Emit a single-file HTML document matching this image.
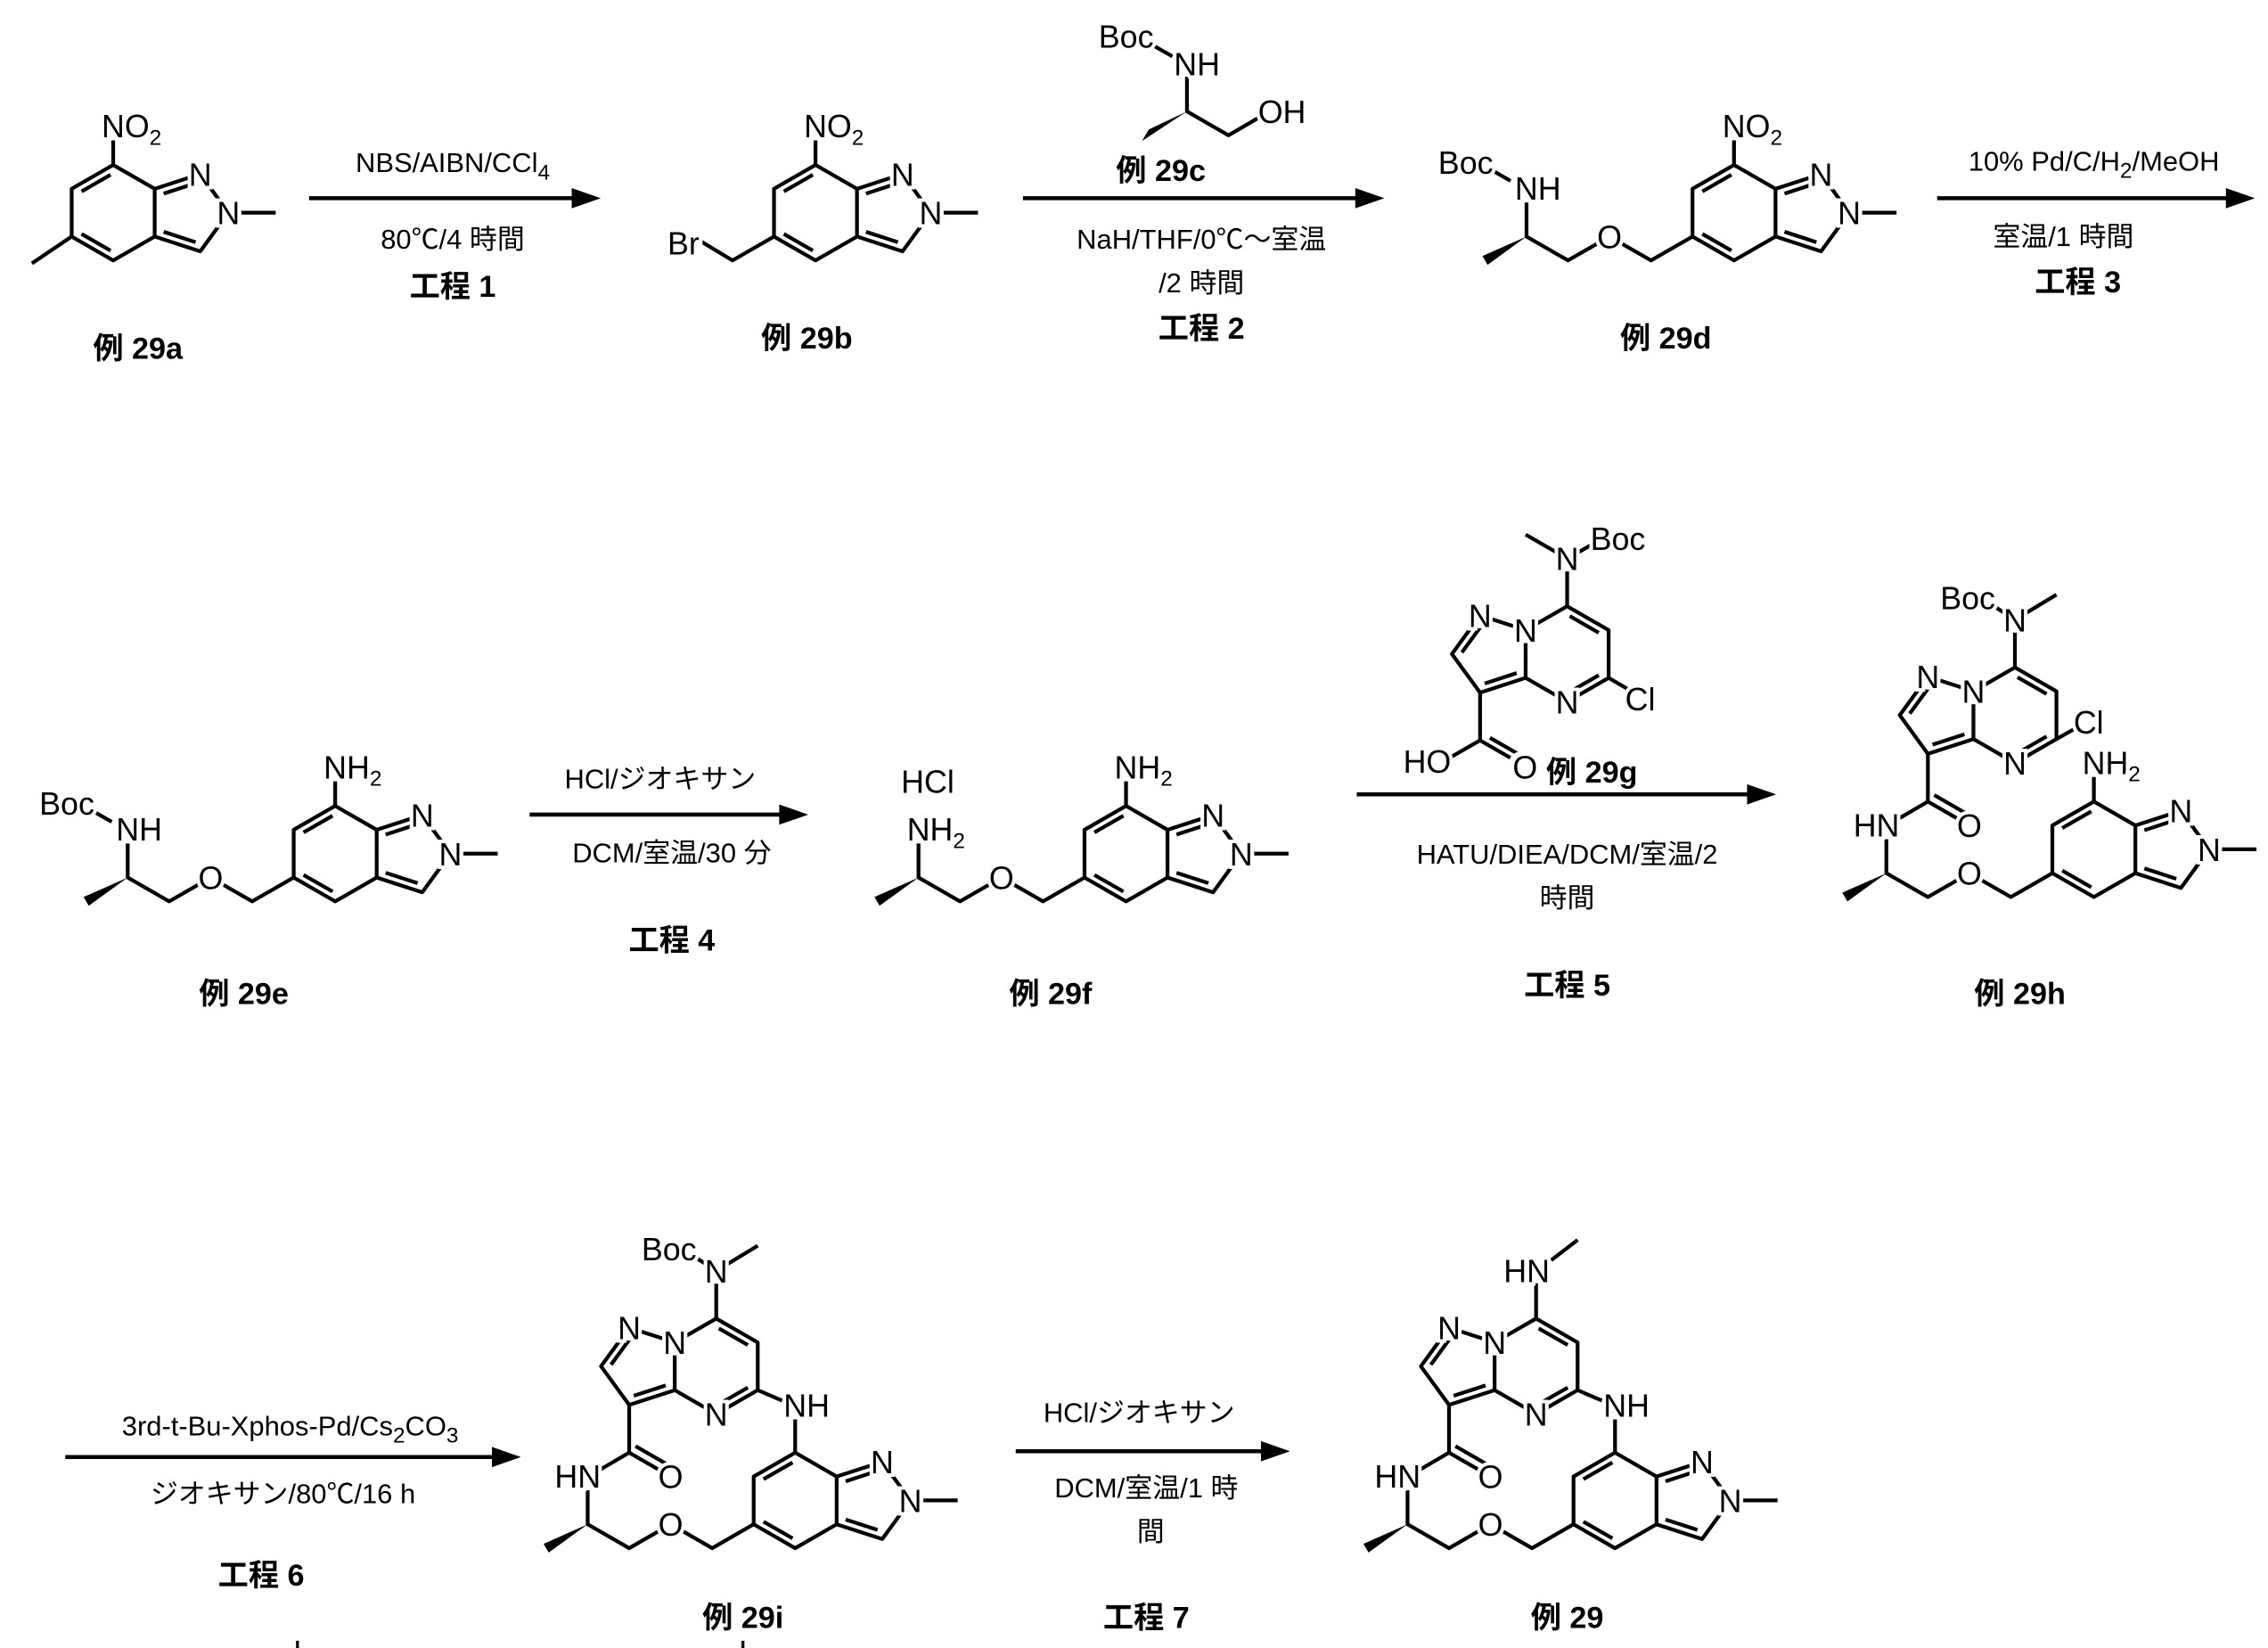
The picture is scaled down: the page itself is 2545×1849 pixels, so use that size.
<!DOCTYPE html>
<html><head><meta charset="utf-8"><style>
html,body{margin:0;padding:0;background:#fff;}
svg{display:block;}
.b{stroke:#000;stroke-width:2.6;fill:none;stroke-linejoin:round;}
.ar{stroke:#000;stroke-width:2.8;fill:none;}
text{font-family:"Liberation Sans","Noto Sans CJK JP",sans-serif;fill:#000;}
.a{font-size:22px;text-anchor:middle;stroke:#fff;stroke-width:5;paint-order:stroke;}
.as{font-size:22px;text-anchor:start;stroke:#fff;stroke-width:5;paint-order:stroke;}
.ae{font-size:22px;text-anchor:end;stroke:#fff;stroke-width:5;paint-order:stroke;}
.r{font-size:19px;text-anchor:middle;}
.k{font-size:21px;font-weight:bold;text-anchor:middle;}
.s{font-size:15px;}
.w{fill:#fff;}
</style></head><body>
<svg width="2545" height="1849" viewBox="0 0 1563 1139" preserveAspectRatio="none" xmlns="http://www.w3.org/2000/svg">
<rect width="1563" height="1139" fill="#fff"/>

<g class="ar"><path d="M213,137 H398 M705,137 H938 M1335,137 H1538 M365,563 H541 M935,549 H1208 M45,1007 H343 M700,1003 H873"/></g>
<g fill="#000">
<polygon points="414,137 394,130 394,144"/>
<polygon points="954,137 934,130 934,144"/>
<polygon points="1554,137 1534,130 1534,144"/>
<polygon points="557,563 537,556 537,570"/>
<polygon points="1224,549 1204,542 1204,556"/>
<polygon points="359,1007 339,1000 339,1014"/>
<polygon points="889,1003 869,996 869,1010"/>
</g>

<text class="r" x="312" y="119">NBS/AIBN/CCl<tspan class="s" dy="5">4</tspan></text>
<text class="r" x="312" y="172">80℃/4 時間</text>
<text class="k" x="312" y="205">工程 1</text>

<text class="r" x="828" y="172">NaH/THF/0℃～室温</text>
<text class="r" x="828" y="202">/2 時間</text>
<text class="k" x="828" y="234">工程 2</text>

<text class="r" x="1443" y="118">10% Pd/C/H<tspan class="s" dy="5">2</tspan><tspan dy="-5">/MeOH</tspan></text>
<text class="r" x="1422" y="170">室温/1 時間</text>
<text class="k" x="1432" y="202">工程 3</text>

<text class="r" x="455" y="545">HCl/ジオキサン</text>
<text class="r" x="463" y="596">DCM/室温/30 分</text>
<text class="k" x="463" y="657">工程 4</text>

<text class="r" x="1080" y="597">HATU/DIEA/DCM/室温/2</text>
<text class="r" x="1080" y="627">時間</text>
<text class="k" x="1080" y="688">工程 5</text>

<text class="r" x="200" y="992">3rd-t-Bu-Xphos-Pd/Cs<tspan class="s" dy="5">2</tspan><tspan dy="-5">CO</tspan><tspan class="s" dy="5">3</tspan></text>
<text class="r" x="195" y="1039">ジオキサン/80℃/16  h</text>
<text class="k" x="180" y="1096">工程 6</text>

<text class="r" x="785" y="983">HCl/ジオキサン</text>
<text class="r" x="790" y="1035">DCM/室温/1 時</text>
<text class="r" x="793" y="1065">間</text>
<text class="k" x="790" y="1125">工程 7</text>

<text class="k" x="95" y="248">例 29a</text>
<text class="k" x="556" y="241">例 29b</text>
<text class="k" x="800" y="125">例 29c</text>
<text class="k" x="1148" y="241">例 29d</text>
<text class="k" x="168" y="694">例 29e</text>
<text class="k" x="724" y="694">例 29f</text>
<text class="k" x="1097" y="541">例 29g</text>
<text class="k" x="1392" y="694">例 29h</text>
<text class="k" x="512" y="1125">例 29i</text>
<text class="k" x="1080" y="1125">例 29</text>
<rect x="204" y="1134" width="2" height="5" fill="#000"/>
<rect x="511" y="1134" width="2" height="5" fill="#000"/>

<g transform="translate(78,147)">
<path class="b" d="M0,-33 L28.6,-16.5 L28.6,16.5 L0,33 L-28.6,16.5 L-28.6,-16.5 Z M-1.8,-26.2 L-21.8,-14.7 M-21.8,14.7 L-1.8,26.2 M28.6,-16.5 L60,-26.7 L79.4,0 L60,26.7 L28.6,16.5 M34.8,-13.2 L56.8,-20.4 M56.8,20.4 L34.8,13.2 M79.4,0 L112,0 M0,-33 L0,-50 M-28.6,16.5 L-56,35"/>
<circle class="w" cx="60" cy="-26.7" r="9"/><circle class="w" cx="79.4" cy="0" r="9"/>
<text class="a" x="60" y="-18.7">N</text><text class="a" x="79.4" y="8">N</text>
<text class="as" x="-8" y="-52">NO<tspan class="s" dy="5">2</tspan></text>
</g>

<g transform="translate(562,147)">
<path class="b" d="M0,-33 L28.6,-16.5 L28.6,16.5 L0,33 L-28.6,16.5 L-28.6,-16.5 Z M-1.8,-26.2 L-21.8,-14.7 M-21.8,14.7 L-1.8,26.2 M28.6,-16.5 L60,-26.7 L79.4,0 L60,26.7 L28.6,16.5 M34.8,-13.2 L56.8,-20.4 M56.8,20.4 L34.8,13.2 M79.4,0 L112,0 M0,-33 L0,-50 M-28.6,16.5 L-57.2,33 L-82,18"/>
<circle class="w" cx="60" cy="-26.7" r="9"/><circle class="w" cx="79.4" cy="0" r="9"/>
<text class="a" x="60" y="-18.7">N</text><text class="a" x="79.4" y="8">N</text>
<text class="as" x="-8" y="-52">NO<tspan class="s" dy="5">2</tspan></text>
<text class="ae" x="-80" y="29">Br</text>
</g>

<path class="b" d="M818,53 L818,77 L846.6,93.5 L868,81 M794,31 L808,39"/>
<polygon points="818,77 787,97.5 791.7,89.5" fill="#000"/>
<text class="as" x="809" y="52">NH</text>
<text class="as" x="867" y="85">OH</text>
<text class="ae" x="795" y="33">Boc</text>

<g transform="translate(1195,147)">
<path class="b" d="M0,-33 L28.6,-16.5 L28.6,16.5 L0,33 L-28.6,16.5 L-28.6,-16.5 Z M-1.8,-26.2 L-21.8,-14.7 M-21.8,14.7 L-1.8,26.2 M28.6,-16.5 L60,-26.7 L79.4,0 L60,26.7 L28.6,16.5 M34.8,-13.2 L56.8,-20.4 M56.8,20.4 L34.8,13.2 M79.4,0 L112,0 M0,-33 L0,-50"/>
<path class="b" d="M-28.6,16.5 L-57.2,33 L-85.8,16.5 L-114.4,33 L-143,16.5 L-143,-7 M-168,-30 L-154,-22"/>
<polygon points="-143,16.5 -169.85,36.03 -173.35,29.97" fill="#000"/>
<circle class="w" cx="-85.8" cy="16.5" r="9"/>
<text class="a" x="-85.8" y="24.5">O</text>
<circle class="w" cx="60" cy="-26.7" r="9"/><circle class="w" cx="79.4" cy="0" r="9"/>
<text class="a" x="60" y="-18.7">N</text><text class="a" x="79.4" y="8">N</text>
<text class="as" x="-8" y="-52">NO<tspan class="s" dy="5">2</tspan></text>
<text class="as" x="-151" y="-9">NH</text>
<text class="ae" x="-166" y="-27">Boc</text>
</g>

<g transform="translate(231,590)">
<path class="b" d="M0,-33 L28.6,-16.5 L28.6,16.5 L0,33 L-28.6,16.5 L-28.6,-16.5 Z M-1.8,-26.2 L-21.8,-14.7 M-21.8,14.7 L-1.8,26.2 M28.6,-16.5 L60,-26.7 L79.4,0 L60,26.7 L28.6,16.5 M34.8,-13.2 L56.8,-20.4 M56.8,20.4 L34.8,13.2 M79.4,0 L112,0 M0,-33 L0,-50"/>
<path class="b" d="M-28.6,16.5 L-57.2,33 L-85.8,16.5 L-114.4,33 L-143,16.5 L-143,-7 M-168,-30 L-154,-22"/>
<polygon points="-143,16.5 -169.85,36.03 -173.35,29.97" fill="#000"/>
<circle class="w" cx="-85.8" cy="16.5" r="9"/>
<text class="a" x="-85.8" y="24.5">O</text>
<circle class="w" cx="60" cy="-26.7" r="9"/><circle class="w" cx="79.4" cy="0" r="9"/>
<text class="a" x="60" y="-18.7">N</text><text class="a" x="79.4" y="8">N</text>
<text class="as" x="-8" y="-52">NH<tspan class="s" dy="5">2</tspan></text>
<text class="as" x="-151" y="-9">NH</text>
<text class="ae" x="-166" y="-27">Boc</text>
</g>

<g transform="translate(776,590)">
<path class="b" d="M0,-33 L28.6,-16.5 L28.6,16.5 L0,33 L-28.6,16.5 L-28.6,-16.5 Z M-1.8,-26.2 L-21.8,-14.7 M-21.8,14.7 L-1.8,26.2 M28.6,-16.5 L60,-26.7 L79.4,0 L60,26.7 L28.6,16.5 M34.8,-13.2 L56.8,-20.4 M56.8,20.4 L34.8,13.2 M79.4,0 L112,0 M0,-33 L0,-50"/>
<path class="b" d="M-28.6,16.5 L-57.2,33 L-85.8,16.5 L-114.4,33 L-143,16.5 L-143,-7"/>
<polygon points="-143,16.5 -169.85,36.03 -173.35,29.97" fill="#000"/>
<circle class="w" cx="-85.8" cy="16.5" r="9"/>
<text class="a" x="-85.8" y="24.5">O</text>
<circle class="w" cx="60" cy="-26.7" r="9"/><circle class="w" cx="79.4" cy="0" r="9"/>
<text class="a" x="60" y="-18.7">N</text><text class="a" x="79.4" y="8">N</text>
<text class="as" x="-8" y="-52">NH<tspan class="s" dy="5">2</tspan></text>
<text class="as" x="-151" y="-9">NH<tspan class="s" dy="5">2</tspan></text>
<text class="as" x="-155" y="-42">HCl</text>
</g>

<g transform="translate(1080,452)">
<path class="b" d="M0,-33 L28.6,-16.5 L28.6,16.5 L0,33 L-28.6,16.5 L-28.6,-16.5 Z M1.8,-26.2 L21.8,-14.7 M21.8,14.7 L1.8,26.2 M-28.6,-16.5 L-60,-26.7 L-79.4,0 L-60,26.7 L-28.6,16.5 M-34.8,13.2 L-56.8,20.4 M-58.9,-19.8 L-72.5,-1.1 M-60,26.7 L-60,59.7 L-84,73.5 M-60,59.7 L-31.4,76.2 M-53.2,57.9 L-33.2,69.4 M0,-33 L0,-66 L-28.6,-82.5 M0,-66 L16,-75 M28.6,16.5 L44,25.5"/>
<circle class="w" cx="-28.6" cy="-16.5" r="9"/><circle class="w" cx="-60" cy="-26.7" r="9"/>
<circle class="w" cx="0" cy="33" r="9"/><circle class="w" cx="0" cy="-66" r="9"/>
<circle class="w" cx="-31.4" cy="76.2" r="9"/>
<text class="a" x="-28.6" y="-8.5">N</text>
<text class="a" x="-60" y="-18.7">N</text>
<text class="a" x="0" y="41">N</text>
<text class="a" x="0" y="-58">N</text>
<text class="as" x="16" y="-72">Boc</text>
<text class="as" x="40" y="39">Cl</text>
<text class="ae" x="-80" y="82">HO</text>
<text class="a" x="-29" y="86">O</text>
</g>

<g transform="translate(1443,587)">
<path class="b" d="M0,-33 L28.6,-16.5 L28.6,16.5 L0,33 L-28.6,16.5 L-28.6,-16.5 Z M-1.8,-26.2 L-21.8,-14.7 M-21.8,14.7 L-1.8,26.2 M28.6,-16.5 L60,-26.7 L79.4,0 L60,26.7 L28.6,16.5 M34.8,-13.2 L56.8,-20.4 M56.8,20.4 L34.8,13.2 M79.4,0 L112,0 M0,-33 L0,-50"/>
<path class="b" d="M-28.6,16.5 L-57.2,33 L-85.8,16.5 L-114.4,33 L-143,16.5 L-143,-7"/>
<polygon points="-143,16.5 -169.85,36.03 -173.35,29.97" fill="#000"/>
<path class="b" d="M-54.4,-125.7 L-25.8,-109.2 L-25.8,-76.2 L-54.4,-59.7 L-83,-76.2 L-83,-109.2 Z M-52.6,-118.9 L-32.6,-107.4 M-32.6,-78 L-52.6,-66.5 M-83,-109.2 L-114.4,-119.4 L-133.8,-92.7 L-114.4,-66 L-83,-76.2 M-89.2,-79.5 L-111.2,-72.3 M-113.3,-112.5 L-126.9,-93.8 M-114.4,-66 L-114.4,-33 L-85.8,-16.5 M-110,-37.5 L-88,-24.8 M-114.4,-33 L-140,-18 M-54.4,-125.7 L-54.4,-158.7 L-25.8,-176 M-72,-170 L-61,-163 M-25.8,-76.2 L-12,-84"/>
<circle class="w" cx="-85.8" cy="16.5" r="9"/><circle class="w" cx="60" cy="-26.7" r="9"/><circle class="w" cx="79.4" cy="0" r="9"/>
<circle class="w" cx="-85.8" cy="-16.5" r="9"/><circle class="w" cx="-83" cy="-109.2" r="9"/><circle class="w" cx="-114.4" cy="-119.4" r="9"/><circle class="w" cx="-54.4" cy="-59.7" r="9"/><circle class="w" cx="-54.4" cy="-158.7" r="9"/>
<text class="a" x="-85.8" y="24.5">O</text>
<text class="a" x="60" y="-18.7">N</text><text class="a" x="79.4" y="8">N</text>
<text class="as" x="-8" y="-52">NH<tspan class="s" dy="5">2</tspan></text>
<text class="ae" x="-134" y="-9">HN</text>
<text class="a" x="-85.8" y="-8.5">O</text>
<text class="a" x="-83" y="-101.2">N</text>
<text class="a" x="-114.4" y="-111.4">N</text>
<text class="a" x="-54.4" y="-51.7">N</text>
<text class="a" x="-54.4" y="-150.7">N</text>
<text class="ae" x="-68" y="-166">Boc</text>
<text class="as" x="-14" y="-80">Cl</text>
</g>

<g transform="translate(548,1037)">
<path class="b" d="M0,-33 L28.6,-16.5 L28.6,16.5 L0,33 L-28.6,16.5 L-28.6,-16.5 Z M-1.8,-26.2 L-21.8,-14.7 M-21.8,14.7 L-1.8,26.2 M28.6,-16.5 L60,-26.7 L79.4,0 L60,26.7 L28.6,16.5 M34.8,-13.2 L56.8,-20.4 M56.8,20.4 L34.8,13.2 M79.4,0 L112,0 M0,-33 L0,-56"/>
<path class="b" d="M-28.6,16.5 L-57.2,33 L-85.8,16.5 L-114.4,33 L-143,16.5 L-143,-7"/>
<polygon points="-143,16.5 -169.85,36.03 -173.35,29.97" fill="#000"/>
<path class="b" d="M-54.4,-125.7 L-25.8,-109.2 L-25.8,-76.2 L-54.4,-59.7 L-83,-76.2 L-83,-109.2 Z M-52.6,-118.9 L-32.6,-107.4 M-32.6,-78 L-52.6,-66.5 M-83,-109.2 L-114.4,-119.4 L-133.8,-92.7 L-114.4,-66 L-83,-76.2 M-89.2,-79.5 L-111.2,-72.3 M-113.3,-112.5 L-126.9,-93.8 M-114.4,-66 L-114.4,-33 L-85.8,-16.5 M-110,-37.5 L-88,-24.8 M-114.4,-33 L-140,-18 M-54.4,-125.7 L-54.4,-158.7 L-25.8,-176 M-72,-170 L-61,-163 M-25.8,-76.2 L-9,-69"/>
<circle class="w" cx="-85.8" cy="16.5" r="9"/><circle class="w" cx="60" cy="-26.7" r="9"/><circle class="w" cx="79.4" cy="0" r="9"/>
<circle class="w" cx="-85.8" cy="-16.5" r="9"/><circle class="w" cx="-83" cy="-109.2" r="9"/><circle class="w" cx="-114.4" cy="-119.4" r="9"/><circle class="w" cx="-54.4" cy="-59.7" r="9"/><circle class="w" cx="-54.4" cy="-158.7" r="9"/>
<text class="a" x="-85.8" y="24.5">O</text>
<text class="a" x="60" y="-18.7">N</text><text class="a" x="79.4" y="8">N</text>
<text class="as" x="-8" y="-58">NH</text>
<text class="ae" x="-134" y="-9">HN</text>
<text class="a" x="-85.8" y="-8.5">O</text>
<text class="a" x="-83" y="-101.2">N</text>
<text class="a" x="-114.4" y="-111.4">N</text>
<text class="a" x="-54.4" y="-51.7">N</text>
<text class="a" x="-54.4" y="-150.7">N</text>
<text class="ae" x="-68" y="-166">Boc</text>
</g>

<g transform="translate(1113,1037)">
<path class="b" d="M0,-33 L28.6,-16.5 L28.6,16.5 L0,33 L-28.6,16.5 L-28.6,-16.5 Z M-1.8,-26.2 L-21.8,-14.7 M-21.8,14.7 L-1.8,26.2 M28.6,-16.5 L60,-26.7 L79.4,0 L60,26.7 L28.6,16.5 M34.8,-13.2 L56.8,-20.4 M56.8,20.4 L34.8,13.2 M79.4,0 L112,0 M0,-33 L0,-56"/>
<path class="b" d="M-28.6,16.5 L-57.2,33 L-85.8,16.5 L-114.4,33 L-143,16.5 L-143,-7"/>
<polygon points="-143,16.5 -169.85,36.03 -173.35,29.97" fill="#000"/>
<path class="b" d="M-54.4,-125.7 L-25.8,-109.2 L-25.8,-76.2 L-54.4,-59.7 L-83,-76.2 L-83,-109.2 Z M-52.6,-118.9 L-32.6,-107.4 M-32.6,-78 L-52.6,-66.5 M-83,-109.2 L-114.4,-119.4 L-133.8,-92.7 L-114.4,-66 L-83,-76.2 M-89.2,-79.5 L-111.2,-72.3 M-113.3,-112.5 L-126.9,-93.8 M-114.4,-66 L-114.4,-33 L-85.8,-16.5 M-110,-37.5 L-88,-24.8 M-114.4,-33 L-140,-18 M-54.4,-125.7 L-54.4,-150 M-44,-166 L-25.8,-180 M-25.8,-76.2 L-9,-69"/>
<circle class="w" cx="-85.8" cy="16.5" r="9"/><circle class="w" cx="60" cy="-26.7" r="9"/><circle class="w" cx="79.4" cy="0" r="9"/>
<circle class="w" cx="-85.8" cy="-16.5" r="9"/><circle class="w" cx="-83" cy="-109.2" r="9"/><circle class="w" cx="-114.4" cy="-119.4" r="9"/><circle class="w" cx="-54.4" cy="-59.7" r="9"/>
<text class="a" x="-85.8" y="24.5">O</text>
<text class="a" x="60" y="-18.7">N</text><text class="a" x="79.4" y="8">N</text>
<text class="as" x="-8" y="-58">NH</text>
<text class="ae" x="-134" y="-9">HN</text>
<text class="a" x="-85.8" y="-8.5">O</text>
<text class="a" x="-83" y="-101.2">N</text>
<text class="a" x="-114.4" y="-111.4">N</text>
<text class="a" x="-54.4" y="-51.7">N</text>
<text class="ae" x="-45" y="-151">HN</text>
</g>
</svg>
</body></html>
